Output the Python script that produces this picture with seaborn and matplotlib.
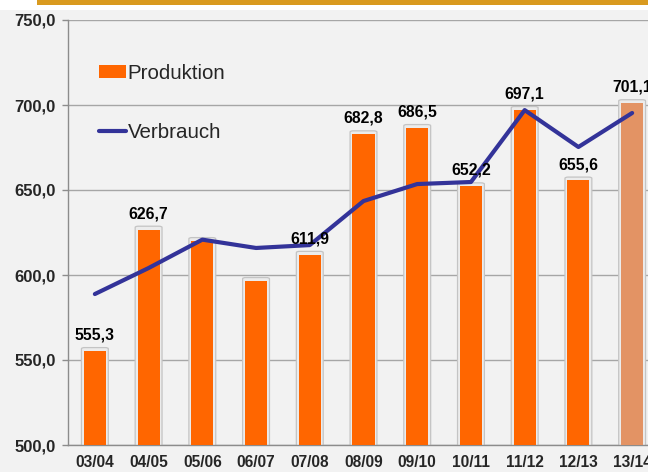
import matplotlib
matplotlib.use("Agg")
import matplotlib.pyplot as plt
import seaborn as sns
import pandas as pd
from matplotlib.patches import Rectangle, FancyBboxPatch
from matplotlib.lines import Line2D

seasons = ["03/04", "04/05", "05/06", "06/07", "07/08", "08/09",
           "09/10", "10/11", "11/12", "12/13", "13/14"]
produktion = [555.3, 626.7, 620.0, 596.5, 611.9, 682.8,
              686.5, 652.2, 697.1, 655.6, 701.1]
verbrauch = [588.8, 604.1, 620.8, 615.9, 617.6, 643.5,
             653.5, 654.7, 697.0, 675.3, 695.3]
show_label = [True, True, False, False, True, True,
              True, True, True, True, True]
bar_colors = ["#ff6600"] * 10 + ["#e39364"]
yticks = [500, 550, 600, 650, 700, 750]

df = pd.DataFrame({"Saison": seasons, "Produktion": produktion,
                   "Verbrauch": verbrauch})

sns.set_theme(style="white")
plt.rcParams["font.family"] = ["Liberation Sans", "DejaVu Sans"]

BG = "#f2f2f2"
fig = plt.figure(figsize=(6.48, 4.72), dpi=100, facecolor=BG)
# top decoration
fig.patches.append(Rectangle((0, 1 - 10 / 472), 1, 10 / 472, transform=fig.transFigure,
                             facecolor="white", edgecolor="none", zorder=0))
fig.patches.append(Rectangle((37 / 648, 1 - 5 / 472), 1, 5 / 472, transform=fig.transFigure,
                             facecolor="#d99a1f", edgecolor="none", zorder=1))

ax = fig.add_axes([68 / 648, 27 / 472, 591 / 648, 425 / 472])
ax.set_facecolor(BG)

# gridlines
ax.set_ylim(500, 750)
ax.set_yticks(yticks)
ax.yaxis.grid(True, color="#a6a6a6", linewidth=1.0)
ax.set_axisbelow(True)

sns.barplot(data=df, x="Saison", y="Produktion", hue="Saison",
            palette=bar_colors, width=0.41, legend=False, ax=ax,
            saturation=1, zorder=3, edgecolor="none")

# light frames behind bars
for p in list(ax.patches):
    cx = p.get_x() + p.get_width() / 2
    h = p.get_height()
    frame = FancyBboxPatch((cx - 0.25, 499), 0.5, h - 499 + 2.0,
                           boxstyle="round,pad=0,rounding_size=0.06",
                           mutation_aspect=12,
                           facecolor="#ececec", edgecolor="#c4c4c4",
                           linewidth=0.9, zorder=2)
    ax.add_patch(frame)

sns.lineplot(data=df, x="Saison", y="Verbrauch", color="#333399",
             linewidth=3.0, ax=ax, zorder=4, sort=False)

for i, (v, s) in enumerate(zip(produktion, show_label)):
    if s:
        ax.annotate(f"{v:.1f}".replace(".", ","), (i, v), xytext=(0, 6),
                    textcoords="offset points", ha="center", va="bottom",
                    fontsize=11.3, fontweight="bold", color="black", zorder=6)

ax.set_xlim(-0.5, len(seasons) - 0.5)
ax.set_xlabel("")
ax.set_ylabel("")
ax.set_yticklabels([f"{t:.1f}".replace(".", ",") for t in yticks],
                   fontsize=12, fontweight="bold")
ax.set_xticks(range(len(seasons)))
ax.set_xticklabels(seasons, fontsize=11.2, fontweight="bold")
ax.tick_params(axis="x", length=0, pad=7)
ax.set_xticks([i + 0.5 for i in range(-1, len(seasons))], minor=True)
ax.tick_params(axis="x", which="minor", length=4, color="#8c8c8c", width=1, direction="out")
ax.tick_params(axis="y", length=4, color="#8c8c8c", width=1, direction="out", pad=5, left=True)

for side in ["top", "right"]:
    ax.spines[side].set_visible(False)
for side in ["left", "bottom"]:
    ax.spines[side].set_color("#8c8c8c")
    ax.spines[side].set_linewidth(1.0)

handles = [Rectangle((0, 0), 1, 1, facecolor="#ff6600", edgecolor="none"),
           Line2D([0], [0], color="#333399", linewidth=3.0)]
ax.legend(handles, ["Produktion", "Verbrauch"], loc="upper left",
          bbox_to_anchor=(0.052, 0.897), frameon=False, fontsize=14.8,
          handlelength=1.35, handleheight=0.6, handletextpad=0.05,
          labelspacing=1.95, borderpad=0, borderaxespad=0)

fig.savefig("out.png", dpi=100, facecolor=BG)
